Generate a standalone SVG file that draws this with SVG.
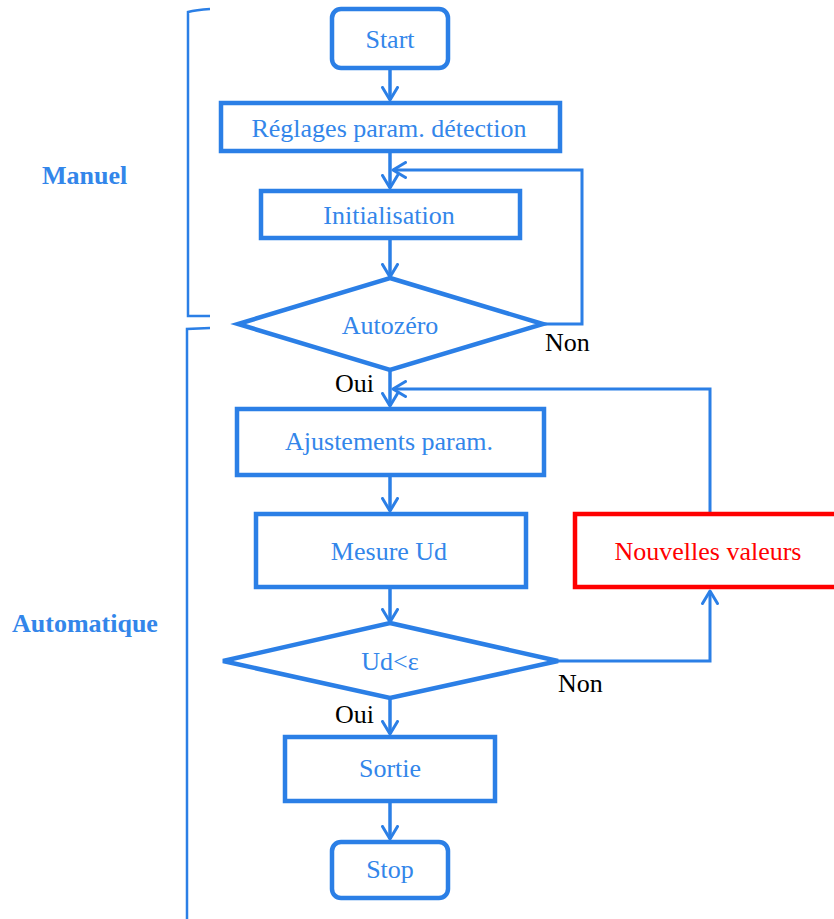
<svg xmlns="http://www.w3.org/2000/svg" width="834" height="919" viewBox="0 0 834 919">
<defs>
<style>
.n{fill:#fff;stroke:#2B7FE6;stroke-width:4.5;}
.r{fill:#fff;stroke:#FF0000;stroke-width:4.5;}
text{font-family:'Liberation Serif','Times New Roman',Times,'DejaVu Serif',serif;font-size:26px;}
.t{fill:#3386EA;text-anchor:middle;}
.tr{fill:#FF0000;text-anchor:middle;}
.l{fill:#000;}
.b{font-weight:bold;fill:#3386EA;}
.c{fill:none;stroke:#2B7FE6;stroke-width:3.5;}
.c2{fill:none;stroke:#2B7FE6;stroke-width:3;}
.br{fill:none;stroke:#2B7FE6;stroke-width:2.5;}
</style>
<marker id="ah" markerUnits="userSpaceOnUse" viewBox="0 0 16 18" markerWidth="16" markerHeight="18" refX="14" refY="9" orient="auto">
<path d="M1.5,1.5 L14,9 L1.5,16.5" fill="none" stroke="#2B7FE6" stroke-width="3" stroke-linejoin="round" stroke-linecap="round"/>
</marker>
</defs>
<g id="brackets">
<path class="br" d="M210,9 Q196,10 188,12 L188,316 L210,316"/>
<path class="br" d="M210,328 L187,329 L187,925"/>
</g>
<g id="labels-modes">
<text class="b" x="42" y="184">Manuel</text>
<text class="b" x="12" y="632">Automatique</text>
</g>
<g id="connectors">
<line class="c" x1="390" y1="70" x2="390" y2="100" marker-end="url(#ah)"/>
<line class="c" x1="390" y1="153" x2="390" y2="188" marker-end="url(#ah)"/>
<line class="c" x1="390" y1="240" x2="390" y2="277" marker-end="url(#ah)"/>
<polyline class="c2" points="543,324 582,324 582,170 393,170" marker-end="url(#ah)"/>
<line class="c" x1="390" y1="370" x2="390" y2="406" marker-end="url(#ah)"/>
<polyline class="c2" points="710,512 710,389 393,389" marker-end="url(#ah)"/>
<line class="c" x1="390" y1="477" x2="390" y2="511" marker-end="url(#ah)"/>
<line class="c" x1="390" y1="589" x2="390" y2="622" marker-end="url(#ah)"/>
<polyline class="c2" points="558,661 710,661 710,591" marker-end="url(#ah)"/>
<line class="c" x1="390" y1="698" x2="390" y2="734" marker-end="url(#ah)"/>
<line class="c" x1="390" y1="803" x2="390" y2="839" marker-end="url(#ah)"/>
<text class="l" x="545" y="351">Non</text>
<text class="l" x="335" y="392">Oui</text>
<text class="l" x="558" y="692">Non</text>
<text class="l" x="335" y="723">Oui</text>
</g>
<g id="start">
<rect class="n" x="332" y="9" width="116" height="59" rx="9"/>
<text class="t" x="390" y="48">Start</text>
</g>
<g id="reglages">
<rect class="n" x="221" y="103" width="339" height="48"/>
<text class="t" x="389" y="137">Réglages param. détection</text>
</g>
<g id="init">
<rect class="n" x="261" y="191" width="259" height="47"/>
<text class="t" x="389" y="224">Initialisation</text>
</g>
<g id="autozero">
<polygon class="n" points="390,278 543,324 390,370 238,324"/>
<text class="t" x="390" y="334">Autozéro</text>
</g>
<g id="ajust">
<rect class="n" x="237" y="409" width="307" height="66"/>
<text class="t" x="389" y="450">Ajustements param.</text>
</g>
<g id="mesure">
<rect class="n" x="256" y="514" width="270" height="73"/>
<text class="t" x="389" y="560">Mesure Ud</text>
</g>
<g id="nouvelles">
<rect class="r" x="575" y="514" width="270" height="73"/>
<text class="tr" x="708" y="560">Nouvelles valeurs</text>
</g>
<g id="ud">
<polygon class="n" points="390,623 558,661 390,698 223,661"/>
<text class="t" x="390" y="670">Ud&lt;ε</text>
</g>
<g id="sortie">
<rect class="n" x="285" y="737" width="210" height="64"/>
<text class="t" x="390" y="777">Sortie</text>
</g>
<g id="stop">
<rect class="n" x="332" y="842" width="116" height="56" rx="9"/>
<text class="t" x="390" y="878">Stop</text>
</g>
</svg>
